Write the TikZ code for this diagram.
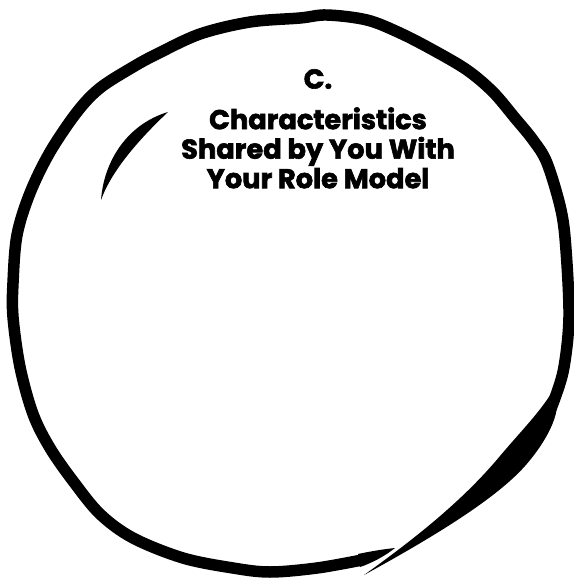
\documentclass[tikz,border=0pt]{standalone}
\usepackage{fontspec}
\setmainfont{Poppins}[BoldFeatures={FakeBold=2.2}]
\tikzset{
  brush/.style={line width=0.23cm, line cap=round, line join=round},
  label/.style={inner sep=0pt, font=\fontsize{15.5}{16.8}\selectfont\bfseries, align=center}
}
\begin{document}
\begin{tikzpicture}[x=0.02cm, y=-0.02cm]
    \useasboundingbox (0,0) rectangle (574,578);
    % Draw the big circle
    \draw[brush] plot[smooth, tension=0.55] coordinates {
      (362,560) (317,568) (270,572) (233,568) (183,558) (133,538) (100,514)
      (73,481) (50,448) (33,414) (20,367) (13,317) (13,283) (17,235)
      (30,193) (50,152) (77,112) (100,88) (133,67) (157,54) (200,34)
      (250,22) (300,18) (327,15) (367,20) (400,33) (433,50) (467,70)
      (493,92) (515,118) (533,140) (547,163) (561,210) (566,250)
      (569,317) (564,367) (555,398) (546,420)};
    % Draw the end of the stroke at the bottom
    \fill (358,554) .. controls (372,551) and (385,549) .. (395,548)
      .. controls (385,556) and (372,563) .. (360,567) -- cycle;
    % Draw the last stroke at the bottom right
    \fill (552,392) .. controls (566,405) and (548,440) .. (525,466)
      .. controls (500,494) and (450,528) .. (364,575)
      .. controls (420,535) and (465,498) .. (500,456)
      .. controls (522,430) and (540,412) .. (552,392) -- cycle;
    % Draw the small stroke inside
    \fill (168,112) .. controls (128,124) and (104,160) .. (101,200)
      .. controls (110,175) and (132,146) .. (168,112) -- cycle;
    % Draw the text
    \node[label] (head) at (318,79) {C.};
    \node[label, anchor=north] (title) at (318,107)
      {Characteristics\\Shared by You With\\Your Role Model};
\end{tikzpicture}
\end{document}
